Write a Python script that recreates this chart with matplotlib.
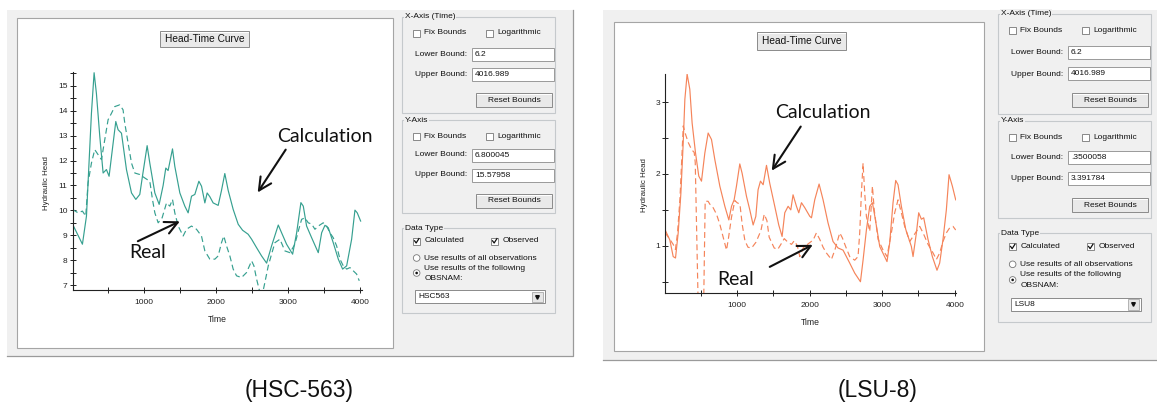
import matplotlib.pyplot as plt
from matplotlib.patches import Rectangle, Circle
from matplotlib.ticker import MultipleLocator

plt.rcParams['font.family'] = ['Liberation Sans', 'DejaVu Sans']

W, H = 1157, 403

# time bounds shared by both wells
x_bounds = (6.2, 4016.989)

# HSC-563
hsc_y_bounds = (6.800045, 15.57958)
hsc_calc_t = [6, 144, 200, 222, 269, 306, 338, 385, 431, 477, 514, 570, 607, 639, 686, 755, 825, 885, 940,
              977, 1042, 1079, 1149, 1209, 1264, 1301, 1333, 1394, 1426, 1496, 1565, 1611, 1658, 1704, 1760,
              1797, 1843, 1875, 1912, 1958, 2028, 2074, 2120, 2167, 2236, 2306, 2367, 2444, 2492, 2561, 2630,
              2700, 2769, 2862, 2908, 2977, 3061, 3117, 3176, 3209, 3255, 3325, 3417, 3464, 3510, 3556, 3625,
              3695, 3755, 3811, 3880, 3926, 3958, 4005]
hsc_calc_h = [9.45, 8.64, 9.77, 11.1, 13.9, 15.53, 14.7, 12.97, 11.5, 11.64, 11.37, 12.7, 13.57, 13.24, 13.1,
              11.64, 10.7, 10.44, 10.64, 11.37, 12.6, 11.9, 10.7, 10.24, 11.0, 11.7, 11.6, 12.47, 11.77, 10.7,
              10.17, 9.9, 10.57, 10.64, 11.17, 10.97, 10.3, 10.7, 10.55, 10.3, 10.2, 10.8, 11.48, 10.8, 10.04,
              9.44, 9.2, 9.04, 8.84, 8.5, 8.17, 7.88, 8.57, 9.41, 9.1, 8.64, 8.24, 9.1, 10.31, 10.17, 9.37, 8.9,
              8.3, 9.1, 9.4, 9.3, 8.7, 8.04, 7.64, 7.77, 8.84, 10.01, 9.9, 9.57]
hsc_obs_t = [6, 83, 144, 190, 222, 269, 315, 361, 408, 454, 500, 547, 593, 662, 708, 732, 778, 825, 871, 940,
             1010, 1079, 1116, 1149, 1195, 1250, 1311, 1357, 1394, 1426, 1473, 1542, 1588, 1658, 1727, 1796,
             1843, 1912, 1982, 2028, 2074, 2106, 2144, 2190, 2236, 2283, 2352, 2421, 2492, 2524, 2561, 2607,
             2650, 2676, 2723, 2769, 2815, 2885, 2954, 3024, 3093, 3140, 3186, 3232, 3278, 3325, 3371, 3417,
             3486, 3533, 3579, 3625, 3672, 3718, 3764, 3811, 3857, 3903, 3949, 3986]
hsc_obs_h = [10.04, 9.9, 9.97, 9.77, 11.1, 11.9, 12.44, 12.24, 12.04, 12.84, 13.64, 13.9, 14.17, 14.24, 14.04,
             13.5, 12.7, 11.9, 11.5, 11.44, 11.3, 11.17, 10.44, 9.9, 9.5, 9.7, 10.3, 10.17, 10.44, 9.9, 9.37,
             8.97, 9.24, 9.37, 9.24, 8.97, 8.37, 8.04, 8.04, 8.17, 8.7, 8.97, 8.57, 8.17, 7.64, 7.37, 7.3, 7.5,
             7.97, 7.77, 7.24, 6.7, 6.75, 7.1, 7.77, 8.24, 8.7, 8.84, 8.37, 8.3, 8.64, 9.17, 9.64, 9.7, 9.5,
             9.45, 9.24, 9.37, 9.5, 9.37, 9.1, 8.9, 8.57, 8.04, 7.77, 7.64, 7.7, 7.57, 7.44, 7.17]

# LSU-8
lsu_y_bounds = (0.3500058, 3.391784)
lsu_calc_t = [9, 73, 119, 151, 188, 225, 257, 280, 311, 348, 380, 427, 472, 509, 555, 601, 647, 693, 762, 831,
              886, 923, 959, 991, 1037, 1069, 1129, 1175, 1221, 1258, 1289, 1322, 1359, 1405, 1450, 1519, 1574,
              1620, 1657, 1703, 1740, 1771, 1818, 1850, 1887, 1933, 2002, 2025, 2070, 2130, 2185, 2253, 2322,
              2391, 2460, 2506, 2552, 2621, 2700, 2736, 2782, 2828, 2865, 2900, 2966, 3066, 3103, 3149, 3186,
              3218, 3264, 3324, 3402, 3425, 3471, 3503, 3540, 3572, 3631, 3691, 3755, 3792, 3838, 3884, 3921,
              3967, 4013]
lsu_calc_h = [1.22, 1.08, 0.85, 0.83, 1.18, 1.73, 2.43, 3.04, 3.39, 3.18, 2.71, 2.29, 1.97, 1.9, 2.29, 2.57,
              2.48, 2.2, 1.83, 1.55, 1.36, 1.55, 1.64, 1.83, 2.14, 2.01, 1.69, 1.5, 1.29, 1.41, 1.78, 1.9, 1.85,
              2.12, 1.87, 1.55, 1.29, 1.13, 1.46, 1.55, 1.5, 1.71, 1.55, 1.46, 1.6, 1.53, 1.41, 1.39, 1.64, 1.86,
              1.64, 1.32, 1.06, 0.97, 0.94, 0.85, 0.76, 0.62, 0.5, 0.8, 1.22, 1.55, 1.6, 1.4, 0.99, 0.78, 1.04,
              1.6, 1.91, 1.85, 1.55, 1.23, 0.99, 0.85, 1.18, 1.46, 1.37, 1.39, 1.09, 0.85, 0.66, 0.76, 1.09, 1.5,
              1.99, 1.83, 1.64]
lsu_obs_t = [9, 73, 119, 150, 179, 212, 258, 290, 326, 372, 409, 423, 462, 540, 560, 600, 624, 670, 716, 762,
             808, 854, 880, 923, 969, 1000, 1039, 1070, 1108, 1150, 1200, 1260, 1328, 1374, 1411, 1442, 1511,
             1560, 1603, 1650, 1700, 1750, 1787, 1830, 1864, 1910, 1970, 2048, 2093, 2139, 2185, 2231, 2300,
             2350, 2392, 2415, 2451, 2500, 2552, 2621, 2667, 2690, 2713, 2736, 2759, 2782, 2828, 2865, 2890,
             2943, 3012, 3066, 3126, 3172, 3218, 3264, 3310, 3379, 3425, 3471, 3517, 3563, 3632, 3701, 3747,
             3792, 3838, 3884, 3930, 3976, 4013]
lsu_obs_h = [1.18, 1.09, 1.02, 0.95, 1.18, 1.65, 2.67, 2.55, 2.44, 2.34, 2.3, 2.16, 0.25, 0.25, 1.62, 1.62,
             1.58, 1.53, 1.44, 1.3, 1.12, 0.94, 1.1, 1.4, 1.63, 1.6, 1.58, 1.3, 1.07, 0.98, 0.97, 1.05, 1.21,
             1.44, 1.35, 1.12, 0.97, 0.95, 1.02, 1.1, 1.05, 1.02, 1.07, 1.0, 0.85, 0.97, 1.02, 1.08, 1.18, 1.09,
             0.98, 0.9, 0.81, 0.95, 1.1, 1.18, 1.11, 0.98, 0.85, 0.8, 0.85, 1.18, 1.73, 2.15, 1.73, 1.41, 1.2,
             1.83, 1.5, 1.09, 0.94, 0.85, 1.18, 1.46, 1.64, 1.46, 1.27, 1.06, 1.13, 1.2, 1.27, 1.18, 1.02, 0.9,
             0.81, 0.9, 1.06, 1.18, 1.25, 1.27, 1.22]

GRAY = '#f0f0f0'
TEAL = '#36a090'
ORANGE = '#f5845a'

fig = plt.figure(figsize=(W / 100, H / 100), dpi=100)
fig.patch.set_facecolor('white')

# pixel canvas for the window chrome
bg = fig.add_axes([0, 0, 1, 1], zorder=0)
bg.set_xlim(0, W)
bg.set_ylim(H, 0)
bg.axis('off')


def rect(x0, y0, x1, y1, fc='none', ec='none', lw=0.8, z=1):
    bg.add_patch(Rectangle((x0, y0), x1 - x0, y1 - y0, facecolor=fc, edgecolor=ec, linewidth=lw, zorder=z))


def label(x, y, s, size=6, ha='left', **kw):
    bg.text(x, y, s, fontsize=size, ha=ha, va='center', color='#111111', zorder=5, **kw)


def button(x0, y0, x1, y1, s, size=6):
    rect(x0, y0, x1, y1, fc='#e9e9e9', ec='#8a8a8a', lw=0.7, z=3)
    bg.plot([x0 + 1, x1 - 1], [y0 + 1, y0 + 1], color='white', lw=0.7, zorder=4)
    label((x0 + x1) / 2, (y0 + y1) / 2, s, size=size, ha='center')


def textbox(x0, y0, x1, y1, s):
    rect(x0, y0, x1, y1, fc='white', ec='#9a9a9a', lw=0.7, z=3)
    label(x0 + 3, (y0 + y1) / 2, s)


def checkbox(x, y, s, checked=False):
    rect(x, y - 3.5, x + 7, y + 3.5, fc='white', ec='#777777', lw=0.6, z=3)
    if checked:
        bg.plot([x + 1.4, x + 3, x + 5.8], [y - 0.2, y + 2, y - 2.4], color='#111111', lw=0.9, zorder=4)
    label(x + 11, y, s)


def radio(x, y, s, selected=False):
    bg.add_patch(Circle((x + 3.5, y), 3.3, facecolor='white', edgecolor='#777777', lw=0.6, zorder=3))
    if selected:
        bg.add_patch(Circle((x + 3.5, y), 1.3, facecolor='#111111', edgecolor='none', zorder=4))
    label(x + 11, y, s)


def groupbox(x0, y0, x1, y1, s):
    rect(x0, y0, x1, y1, ec='#c5c9cc', lw=0.8, z=2)
    bg.text(x0 + 3, y0, s, fontsize=6, ha='left', va='center', color='#111111', zorder=5,
            bbox=dict(facecolor=GRAY, edgecolor='none', pad=0.6))


def side_panel(x0, sy, oy, lower, upper, obsname):
    def X(v):
        return x0 + (v - 402) * 1.013

    def Y(v):
        return v * sy + oy

    groupbox(X(402), Y(17), X(553), Y(113), 'X-Axis (Time)')
    checkbox(X(413), Y(33), 'Fix Bounds')
    checkbox(X(485), Y(33), 'Logarithmic')
    label(X(415), Y(54), 'Lower Bound:')
    textbox(X(471), Y(48), X(552), Y(61), '6.2')
    label(X(415), Y(75), 'Upper Bound:')
    textbox(X(471), Y(68), X(552), Y(81), '4016.989')
    button(X(475), Y(93), X(550), Y(107), 'Reset Bounds')

    groupbox(X(402), Y(120), X(553), Y(213), 'Y-Axis')
    checkbox(X(413), Y(136), 'Fix Bounds')
    checkbox(X(485), Y(136), 'Logarithmic')
    label(X(415), Y(155), 'Lower Bound:')
    textbox(X(471), Y(149), X(552), Y(162), lower)
    label(X(415), Y(175), 'Upper Bound:')
    textbox(X(471), Y(169), X(552), Y(182), upper)
    button(X(475), Y(194), X(550), Y(208), 'Reset Bounds')

    groupbox(X(402), Y(228), X(553), Y(313), 'Data Type')
    checkbox(X(413), Y(241), 'Calculated', checked=True)
    checkbox(X(490), Y(241), 'Observed', checked=True)
    radio(X(413), Y(258), 'Use results of all observations')
    radio(X(413), Y(273), '', selected=True)
    label(X(424), Y(268), 'Use results of the following')
    label(X(424), Y(278), 'OBSNAM:')
    rect(X(415), Y(290), X(543), Y(303), fc='white', ec='#8a8a8a', lw=0.7, z=3)
    rect(X(530), Y(291.5), X(541.5), Y(301.5), fc='#e6e6e6', ec='#9a9a9a', lw=0.5, z=4)
    bg.plot([X(535.7)], [Y(296.5)], marker='v', ms=2.6, color='#111111', zorder=5)
    label(X(418), Y(296.5), obsname)


# left window
rect(7, 10, 573, 356, fc=GRAY, ec='none', z=0.5)
bg.plot([7, 573, 573], [356, 356, 10], color='#9a9a9a', lw=0.9, zorder=1)
rect(17, 18, 393, 348, fc='white', ec='#a5a5a5', lw=0.8, z=1)
button(160, 31, 249, 47, 'Head-Time Curve', size=7.3)
side_panel(402, 1.0, 0, '6.800045', '15.57958', 'HSC563')

# right window
rect(603, 10, 1157, 360, fc=GRAY, ec='none', z=0.5)
bg.plot([603, 1157], [360, 360], color='#9a9a9a', lw=0.9, zorder=1)
rect(614, 22, 984, 351, fc='white', ec='#a5a5a5', lw=0.8, z=1)
button(757, 32, 846, 50, 'Head-Time Curve', size=7.3)
side_panel(998, 1.04, -4, '.3500058', '3.391784', 'LSU8')

# captions
bg.text(299, 390, '(HSC-563)', fontsize=16.5, ha='center', va='center', color='#111111')
bg.text(878, 390, '(LSU-8)', fontsize=16.5, ha='center', va='center', color='#111111')


def px_axes(x0, y0, x1, y1):
    return fig.add_axes([x0 / W, 1 - y1 / H, (x1 - x0) / W, (y1 - y0) / H], zorder=2)


def head_time(ax, calc_t, calc_h, obs_t, obs_h, ybounds, color, ylabel_x, ylabel_y):
    ax.patch.set_alpha(0)
    ax.plot(calc_t, calc_h, color=color, lw=0.85)
    ax.plot(obs_t, obs_h, color=color, lw=0.85, linestyle=(0, (5, 3)))
    ax.set_xlim(*x_bounds)
    ax.set_ylim(*ybounds)
    for side in ('top', 'right'):
        ax.spines[side].set_visible(False)
    for side in ('left', 'bottom'):
        ax.spines[side].set_linewidth(0.8)
        ax.spines[side].set_color('#222222')
    ax.xaxis.set_major_locator(MultipleLocator(1000))
    ax.xaxis.set_minor_locator(MultipleLocator(500))
    ax.yaxis.set_major_locator(MultipleLocator(1))
    ax.yaxis.set_minor_locator(MultipleLocator(0.5))
    ax.tick_params(which='both', direction='inout', length=5, width=0.7, color='#222222',
                   labelsize=6, labelcolor='#222222')
    ax.tick_params(axis='x', pad=4)
    ax.tick_params(axis='y', pad=1)
    ax.set_xlabel('Time', fontsize=6.2, color='#222222')
    ax.set_ylabel('Hydraulic Head', fontsize=5.7, color='#222222')
    ax.xaxis.set_label_coords(0.5, -0.115)
    ax.yaxis.set_label_coords(ylabel_x, ylabel_y)


def pointer(ax, text, text_xy, tail, head):
    ax.text(*text_xy, text, fontsize=14, family=['Lato', 'DejaVu Sans'], ha='center', va='center',
            color='#111111', clip_on=False, zorder=6)
    ax.annotate('', xy=head, xytext=tail, annotation_clip=False,
                arrowprops=dict(arrowstyle='->,head_length=0.7,head_width=0.35', lw=1.5,
                                color='#111111', mutation_scale=13, shrinkA=0, shrinkB=0))


ax1 = px_axes(72.5, 71.5, 361.5, 290)
head_time(ax1, hsc_calc_t, hsc_calc_h, hsc_obs_t, hsc_obs_h, hsc_y_bounds, TEAL, -0.078, 0.49)
pointer(ax1, 'Calculation', (3503, 12.96), (2965, 12.44), (2576, 10.72))
pointer(ax1, 'Real', (1046, 8.32), (913, 8.76), (1496, 9.56))

ax2 = px_axes(665, 74, 956, 292.5)
head_time(ax2, lsu_calc_t, lsu_calc_h, lsu_obs_t, lsu_obs_h, lsu_y_bounds, ORANGE, -0.058, 0.49)
pointer(ax2, 'Calculation', (2180, 2.855), (1877, 2.66), (1477, 2.046))
pointer(ax2, 'Real', (975, 0.526), (1450, 0.707), (2043, 1.014))

fig.savefig('out.png', dpi=100)
